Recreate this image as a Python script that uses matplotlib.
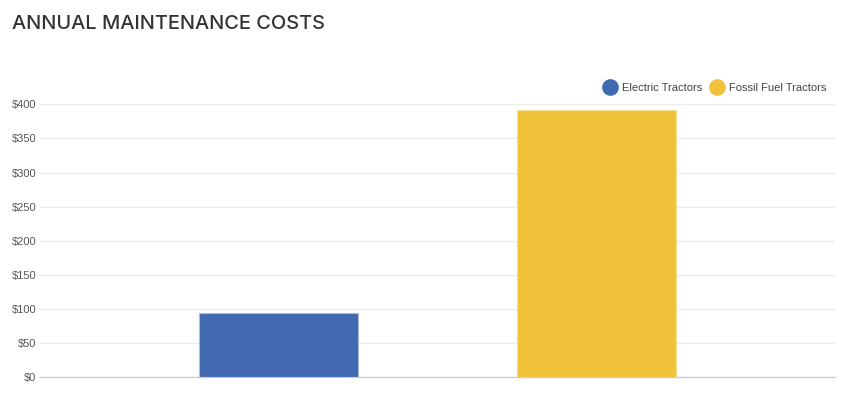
import matplotlib
matplotlib.use("Agg")
import matplotlib.pyplot as plt
from matplotlib.lines import Line2D

series = ["Electric Tractors", "Fossil Fuel Tractors"]
values = [94, 392]
colors = ["#426AB0", "#F0C33A"]
edge_colors = ["#A9BEE0", "#F7DE93"]
yticks = [0, 50, 100, 150, 200, 250, 300, 350, 400]
ytick_labels = [f"${v}" for v in yticks]

W, H = 868, 397
fig = plt.figure(figsize=(W / 100, H / 100), dpi=100)
plt.rcParams['font.family'] = ['Liberation Sans', 'DejaVu Sans']

left, right = 40 / W, 835 / W
bottom, top = 1 - 377.3 / H, 1 - 104.3 / H
ax = fig.add_axes([left, bottom, right - left, top - bottom])

offsets = [-0.2, 0.2]
for off, v, c, ec in zip(offsets, values, colors, edge_colors):
    ax.bar(off, v, width=0.2, color=c, edgecolor=ec, linewidth=0.8, zorder=3)

ax.set_xlim(-0.5, 0.5)
ax.set_ylim(0, 400)
ax.set_yticks(yticks)
ax.set_yticklabels(ytick_labels, fontsize=8, color="#555555")
ax.set_xticks([])
ax.tick_params(axis='y', length=0, pad=2.5)
ax.grid(axis='y', color="#EBEBEB", linewidth=0.8, zorder=0)
for s in ["top", "right", "left"]:
    ax.spines[s].set_visible(False)
ax.spines["bottom"].set_color("#CCCCCC")
ax.spines["bottom"].set_linewidth(1.0)

fig.text(12 / W, 1 - 24 / H, "ANNUAL MAINTENANCE COSTS", fontsize=14.4,
         color="#333333", ha="left", va="center", fontweight="medium",
         family=['Inter', 'DejaVu Sans'])

handles = [Line2D([0], [0], marker='o', linestyle='none', markersize=11,
                  markerfacecolor=c, markeredgecolor=c) for c in colors]
leg = fig.legend(handles, series, loc="center right",
                 bbox_to_anchor=(826 / W, 1 - 88 / H), ncol=2, frameon=False,
                 fontsize=8, handletextpad=0.33, columnspacing=0.68,
                 handlelength=1.4, borderpad=0, borderaxespad=0)
for t in leg.get_texts():
    t.set_color("#444444")

fig.savefig("out.png", dpi=100, facecolor="white")
